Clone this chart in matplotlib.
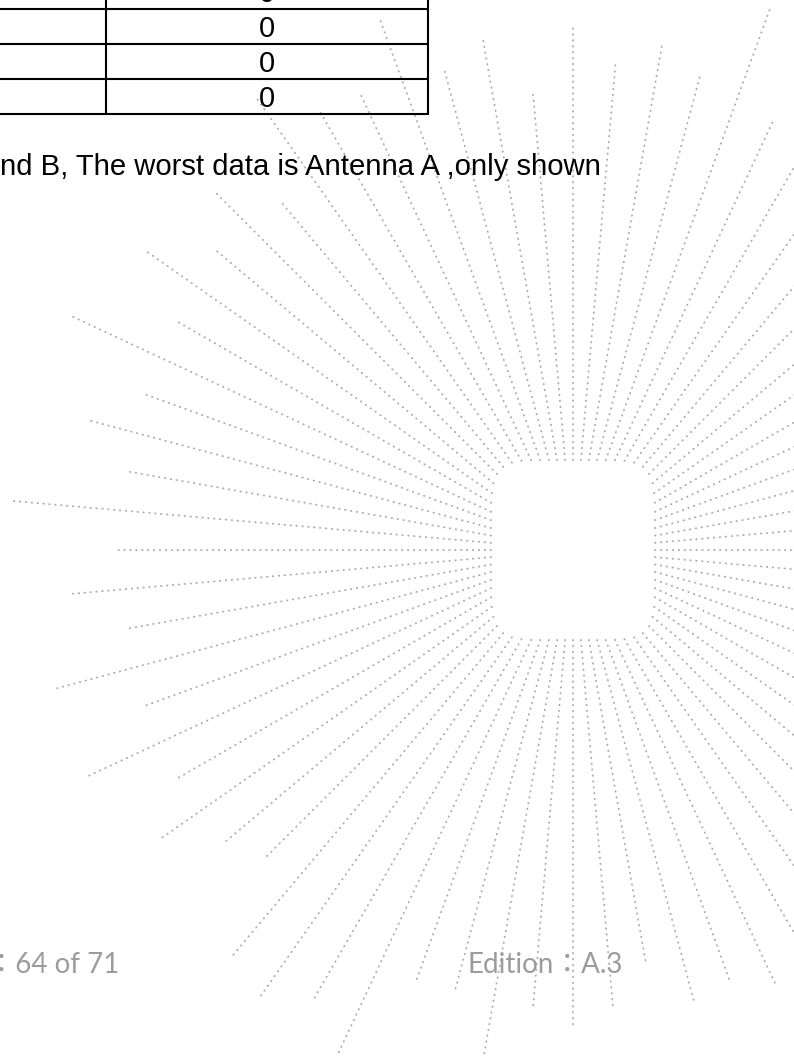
import matplotlib
matplotlib.use("Agg")
import numpy as np
import matplotlib.pyplot as plt

# ---------------- data ----------------
table_values = ["0", "0", "0", "0"]
body_text = "nd B, The worst data is Antenna A ,only shown"
footer_page = "Page\uff1a64 of 71"
footer_edition = "Edition\uff1aA.3"

# watermark sunburst: ray direction (degrees, 0 = right, 90 = up) and outer reach (px from centre)
ray_angles = [0, 5, 10, 15, 20, 25, 30, 35, 40, 45, 50, 55,
              60, 65, 70, 75, 80, 85, 90, 95, 100, 105, 110, 115,
              120, 125, 130, 135, 140, 145, 150, 155, 160, 165, 170, 175,
              180, 185, 190, 195, 200, 205, 210, 215, 220, 225, 230, 235,
              240, 245, 250, 255, 260, 265, 270, 275, 280, 285, 290, 295,
              300, 305, 310, 315, 320, 325, 330, 335, 340, 345, 350, 355]
ray_reach = [520, 520, 520, 520, 520, 520, 520, 520, 520, 520, 520, 520,
             470, 473, 580, 490, 515, 489, 525, 457, 521, 499, 564, 504,
             506, 553, 455, 506, 470, 523, 456, 552, 455, 502, 455, 565,
             455, 502, 455, 534, 456, 534, 458, 503, 458, 433, 529, 544,
             518, 556, 459, 459, 513, 460, 476, 460, 418, 466, 460, 481,
             460, 520, 520, 520, 520, 520, 520, 520, 520, 520, 520, 520]

# ---------------- figure ----------------
W, H = 794, 1057
fig = plt.figure(figsize=(W / 100, H / 100), dpi=100)
ax = fig.add_axes([0, 0, 1, 1])
ax.set_xlim(0, W)
ax.set_ylim(H, 0)
ax.axis("off")

# sunburst watermark (rays start on a rounded square around the centre)
cx, cy = 573, 550
hx, hy, pw = 82, 90, 6
dot_color = "#adadad"
for ang, reach in zip(ray_angles, ray_reach):
    t = np.deg2rad(ang)
    c, s = np.cos(t), np.sin(t)
    r0 = ((abs(c) / hx) ** pw + (abs(s) / hy) ** pw) ** (-1.0 / pw)
    r = np.array([r0, reach])
    ax.plot(cx + r * c, cy - r * s, color=dot_color, lw=1.35,
            linestyle=(0, (0.25, 2.9)), dash_capstyle="round", zorder=1)

# table fragment (top row is cut by the page edge)
row_lines = [9, 44, 79, 114]
row_h = 35
tbl_right = 428
col_split = 106
for y in row_lines:
    ax.plot([-5, tbl_right + 1], [y, y], color="black", lw=1.5, zorder=3,
            solid_capstyle="butt")
for x in [col_split, tbl_right]:
    ax.plot([x, x], [-5, row_lines[-1] + 1], color="black", lw=1.5, zorder=3,
            solid_capstyle="butt")
body_font = "Liberation Sans"
for i, v in enumerate(table_values):
    baseline = row_lines[0] - 7 + row_h * i
    ax.text((col_split + tbl_right) / 2, baseline, v, ha="center",
            va="baseline", fontsize=21, family=body_font, color="black", zorder=4)

# body text
ax.text(0, 175, body_text, ha="left", va="baseline", fontsize=21.1,
        family=body_font, color="black", zorder=4)

# footer
foot_col = "#9c9c9c"
ax.text(119, 973, footer_page, ha="right", va="baseline", fontsize=20,
        family=["Lato", "Noto Sans CJK JP"], color=foot_col, zorder=4)
ax.text(467, 973, footer_edition, ha="left", va="baseline", fontsize=20,
        family=["Lato", "Noto Sans CJK JP"], color=foot_col, zorder=4)

fig.savefig("out.png", dpi=100)
